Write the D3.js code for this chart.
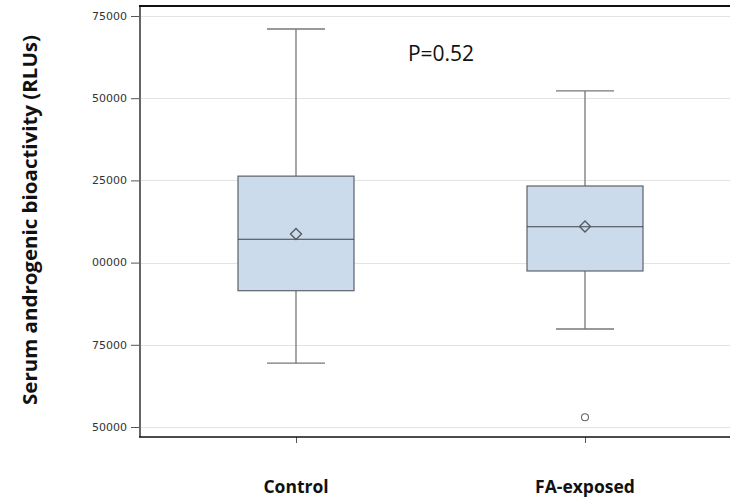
<!DOCTYPE html>
<html>
<head>
<meta charset="utf-8">
<script src="https://cdn.jsdelivr.net/npm/d3@7"></script>
<style>
  html, body { margin: 0; padding: 0; background: #fff; }
  svg { display: block; }
</style>
</head>
<body>
<svg id="chart" width="730" height="500"></svg>
<script>
// ---- data ----
const categories = ["Control", "FA-exposed"];
const whiskerLow = [69400, 79800];
const q1Values = [91450, 97450];
const medianValues = [107100, 110900];
const q3Values = [126300, 123300];
const whiskerHigh = [171050, 152200];
const meanValues = [108700, 111000];
const outlierGroups = ["FA-exposed"];
const outlierValues = [52950];
const yTickValues = [50000, 75000, 100000, 125000, 150000, 175000];
const pValueText = "P=0.52";
const yAxisTitle = "Serum androgenic bioactivity (RLUs)";

// ---- layout ----
const svg = d3.select("#chart");
const plot = { left: 140, right: 730, top: 6, bottom: 437 };

const y = d3.scaleLinear().domain([46960, 178040]).range([plot.bottom, plot.top]);
const x = d3.scalePoint().domain(categories).range([296, 585]);

const boxW = 116, capW = 58;

// gridlines
svg.append("g").selectAll("line").data(yTickValues).join("line")
  .attr("x1", plot.left).attr("x2", plot.right)
  .attr("y1", d => Math.round(y(d)) + 0.5).attr("y2", d => Math.round(y(d)) + 0.5)
  .attr("stroke", "#e3e3e3").attr("stroke-width", 1);

// clip for tick labels (labels cut at left as in reference)
svg.append("clipPath").attr("id", "lblclip")
  .append("rect").attr("x", 92).attr("y", 0).attr("width", 48).attr("height", 500);

// y axis
const yAxis = d3.axisLeft(y).tickValues(yTickValues).tickFormat(d3.format("d")).tickSize(9).tickPadding(4);
const gy = svg.append("g").attr("transform", `translate(${plot.left},0)`).call(yAxis);
gy.select(".domain").remove();
gy.selectAll(".tick line").attr("stroke", "#555");
// move tick labels into a clipped group
const lblGroup = svg.append("g").attr("clip-path", "url(#lblclip)");
gy.selectAll(".tick").each(function(d) {
  const t = d3.select(this).select("text");
  lblGroup.append("text")
    .attr("x", plot.left - 13).attr("y", y(d)).attr("dy", "0.35em")
    .attr("text-anchor", "end")
    .attr("font-family", "DejaVu Sans, sans-serif").attr("font-size", 11)
    .attr("fill", "#333").text(t.text());
  t.remove();
});

// x axis
const xAxis = d3.axisBottom(x).tickSize(6).tickFormat("");
const gx = svg.append("g").attr("transform", `translate(0,${plot.bottom})`).call(xAxis);
gx.select(".domain").remove();
gx.selectAll(".tick line").attr("stroke", "#555");

// frame lines
svg.append("line").attr("x1", plot.left).attr("x2", plot.left).attr("y1", plot.top).attr("y2", plot.bottom)
  .attr("stroke", "#666").attr("stroke-width", 2);
svg.append("line").attr("x1", plot.left - 1).attr("x2", plot.right).attr("y1", plot.top).attr("y2", plot.top)
  .attr("stroke", "#111").attr("stroke-width", 2);
svg.append("line").attr("x1", plot.left - 1).attr("x2", plot.right).attr("y1", plot.bottom).attr("y2", plot.bottom)
  .attr("stroke", "#111").attr("stroke-width", 1.6);

// boxes
const idx = d3.range(categories.length);
const g = svg.append("g");
// whiskers
g.selectAll(".wh-up").data(idx).join("line")
  .attr("x1", i => x(categories[i])).attr("x2", i => x(categories[i]))
  .attr("y1", i => y(q3Values[i])).attr("y2", i => y(whiskerHigh[i]))
  .attr("stroke", "#777").attr("stroke-width", 1.3);
g.selectAll(".wh-lo").data(idx).join("line")
  .attr("x1", i => x(categories[i])).attr("x2", i => x(categories[i]))
  .attr("y1", i => y(q1Values[i])).attr("y2", i => y(whiskerLow[i]))
  .attr("stroke", "#777").attr("stroke-width", 1.3);
g.selectAll(".cap-up").data(idx).join("line")
  .attr("x1", i => x(categories[i]) - capW / 2).attr("x2", i => x(categories[i]) + capW / 2)
  .attr("y1", i => y(whiskerHigh[i])).attr("y2", i => y(whiskerHigh[i]))
  .attr("stroke", "#777").attr("stroke-width", 1.3);
g.selectAll(".cap-lo").data(idx).join("line")
  .attr("x1", i => x(categories[i]) - capW / 2).attr("x2", i => x(categories[i]) + capW / 2)
  .attr("y1", i => y(whiskerLow[i])).attr("y2", i => y(whiskerLow[i]))
  .attr("stroke", "#777").attr("stroke-width", 1.3);
// box rect
g.selectAll(".box").data(idx).join("rect")
  .attr("x", i => x(categories[i]) - boxW / 2).attr("width", boxW)
  .attr("y", i => y(q3Values[i])).attr("height", i => y(q1Values[i]) - y(q3Values[i]))
  .attr("fill", "#cbdbec").attr("stroke", "#5d626b").attr("stroke-width", 1.2);
// median
g.selectAll(".med").data(idx).join("line")
  .attr("x1", i => x(categories[i]) - boxW / 2).attr("x2", i => x(categories[i]) + boxW / 2)
  .attr("y1", i => y(medianValues[i])).attr("y2", i => y(medianValues[i]))
  .attr("stroke", "#3d424a").attr("stroke-width", 1.2);
// mean diamonds
const dsz = 5.5;
g.selectAll(".mean").data(idx).join("path")
  .attr("d", i => {
    const cx = x(categories[i]), cy = y(meanValues[i]);
    return `M${cx},${cy - dsz}L${cx + dsz},${cy}L${cx},${cy + dsz}L${cx - dsz},${cy}Z`;
  })
  .attr("fill", "none").attr("stroke", "#555a62").attr("stroke-width", 1.4);
// outliers
g.selectAll(".out").data(outlierValues).join("circle")
  .attr("cx", (d, i) => x(outlierGroups[i])).attr("cy", d => y(d)).attr("r", 3.5)
  .attr("fill", "none").attr("stroke", "#666").attr("stroke-width", 1.1);

// p-value text
svg.append("text").attr("x", 441).attr("y", 61).attr("text-anchor", "middle")
  .attr("font-family", "Open Sans, sans-serif").attr("font-size", 21).attr("fill", "#111")
  .text(pValueText);

// category labels
svg.append("g").selectAll("text").data(categories).join("text")
  .attr("x", d => x(d)).attr("y", 493).attr("text-anchor", "middle")
  .attr("font-family", "Open Sans, sans-serif").attr("font-weight", "bold").attr("font-size", 17.5)
  .attr("fill", "#111").text(d => d);

// y axis title
svg.append("text").attr("transform", "translate(37,220) rotate(-90)").attr("text-anchor", "middle")
  .attr("font-family", "Open Sans, sans-serif").attr("font-weight", "bold").attr("font-size", 20)
  .attr("textLength", 370).attr("lengthAdjust", "spacingAndGlyphs")
  .attr("fill", "#111").text(yAxisTitle);
</script>
</body>
</html>
